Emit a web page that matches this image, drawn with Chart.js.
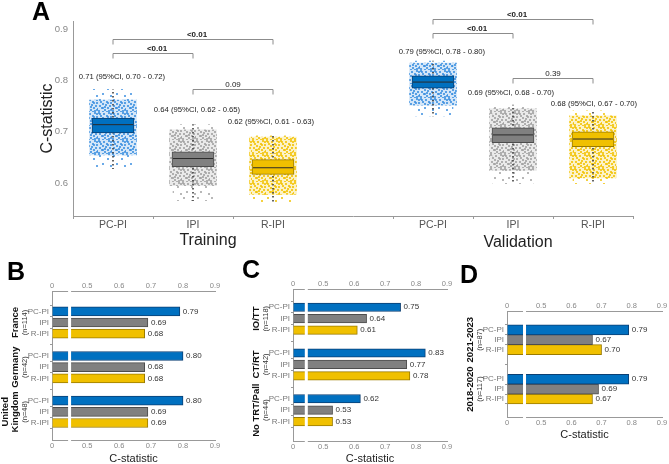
<!DOCTYPE html>
<html>
<head>
<meta charset="utf-8">
<script src="https://cdn.jsdelivr.net/npm/chart.js@4.4.1/dist/chart.umd.min.js"></script>
<style>
  html, body { margin: 0; padding: 0; background: #fff; }
  #wrap { position: relative; width: 669px; height: 464px; overflow: hidden; }
  canvas { position: absolute; }
  .tag { position: absolute; font: bold 25px Arial, "Liberation Sans", sans-serif; line-height: 1; color: #000; }
</style>
</head>
<body>
<div id="wrap">
  <canvas id="chartA" width="669" height="255" style="left:0;top:0"></canvas>
  <canvas id="chartB" width="228" height="211" style="left:0;top:255px"></canvas>
  <canvas id="chartC" width="232" height="211" style="left:225px;top:255px"></canvas>
  <canvas id="chartD" width="219" height="211" style="left:450px;top:255px"></canvas>
  <div class="tag" style="left:32px;top:-1px">A</div>
  <div class="tag" style="left:7px;top:259px">B</div>
  <div class="tag" style="left:242px;top:257px">C</div>
  <div class="tag" style="left:460px;top:262px">D</div>
</div>
<script>
// ---- data ----
const models = ['PC-PI', 'IPI', 'R-IPI'];
const cohorts = ['Training', 'Validation'];

// panel A: bootstrap C-statistics, training then validation
const aucA    = [0.71, 0.64, 0.62, 0.79, 0.69, 0.68];
const ciLoA   = [0.70, 0.62, 0.61, 0.78, 0.68, 0.67];
const ciHiA   = [0.72, 0.65, 0.63, 0.80, 0.70, 0.70];
const medianA = [0.714, 0.648, 0.630, 0.797, 0.694, 0.686];
const q1A     = [0.698, 0.632, 0.617, 0.785, 0.679, 0.671];
const q3A     = [0.727, 0.661, 0.646, 0.809, 0.708, 0.700];
const whiskLoA = [0.628, 0.566, 0.560, 0.731, 0.599, 0.599];
const whiskHiA = [0.783, 0.714, 0.692, 0.838, 0.752, 0.741];
const cloudLoA = [0.655, 0.595, 0.578, 0.752, 0.625, 0.610];
const cloudHiA = [0.762, 0.704, 0.690, 0.834, 0.745, 0.731];
const pairs = [[0, 2], [0, 1], [1, 2]];
const pValues = [['<0.01', '<0.01', '0.09'], ['<0.01', '<0.01', '0.39']];
const yTicksA = [0.6, 0.7, 0.8, 0.9];

// panels B-D
const barTicks = [0, 0.5, 0.6, 0.7, 0.8, 0.9];
const countryLabels = [['France'], ['Germany'], ['United', 'Kingdom']];
const countryN = [114, 42, 48];
const countryPCPI = [0.79, 0.80, 0.80];
const countryIPI  = [0.69, 0.68, 0.69];
const countryRIPI = [0.68, 0.68, 0.69];

const treatLabels = [['IO/TT'], ['CT/RT'], ['No TRT/Pall']];
const treatN = [118, 42, 44];
const treatPCPI = [0.75, 0.83, 0.62];
const treatIPI  = [0.64, 0.77, 0.53];
const treatRIPI = [0.61, 0.78, 0.53];

const periodLabels = [['2021-2023'], ['2018-2020']];
const periodN = [87, 117];
const periodPCPI = [0.79, 0.79];
const periodIPI  = [0.67, 0.69];
const periodRIPI = [0.70, 0.67];

// ---- style ----
Chart.defaults.font.family = 'Arial, "Liberation Sans", sans-serif';
Chart.defaults.animation = false;
const modelColors = ['#0070c0', '#808080', '#f0c000'];
const modelEdges  = ['#0b3f73', '#4d4d4d', '#9a7b00'];
const cloudColors = ['#3a8ee0', '#a0a0a0', '#f2c200'];
const axisGray = '#999';

// speckle texture used to suggest the cloud of bootstrap points
function dotPattern(color, tint, alpha, dots) {
  const c = document.createElement('canvas');
  c.width = 14; c.height = 14;
  const g = c.getContext('2d');
  g.fillStyle = color;
  g.globalAlpha = tint;
  g.fillRect(0, 0, 14, 14);
  g.globalAlpha = alpha;
  dots.forEach(p => g.fillRect(p[0], p[1], 2, 2));
  return g.createPattern(c, 'repeat');
}
const denseDots = [[0,0],[5,1],[10,0],[2,3],[8,3],[12,4],[4,5],[1,7],[7,6],[11,7],[3,9],[9,9],
  [13,10],[6,11],[0,12],[10,12],[4,13],[8,13],[12,1],[6,8]];
const sparseDots = [[1,1],[9,4],[4,9],[12,11]];

function dashPattern() {
  const c = document.createElement('canvas');
  c.width = 1; c.height = 4;
  const g = c.getContext('2d');
  g.fillStyle = '#444';
  g.fillRect(0, 0, 1, 1.5);
  return g.createPattern(c, 'repeat');
}

// 6 values -> 7 category slots (empty slot between cohorts)
function toSlots(arr) { return [arr[0], arr[1], arr[2], null, arr[3], arr[4], arr[5]]; }
function slotOf(i) { return i < 3 ? i : i + 1; }
const slotColors = toSlots(modelColors.concat(modelColors));
const slotEdges = toSlots(modelEdges.concat(modelEdges));
const slotCloud = toSlots(cloudColors.concat(cloudColors)).map(c => c && dotPattern(c, 0.22, 0.8, denseDots));
const slotSparse = toSlots(cloudColors.concat(cloudColors)).map(c => c && dotPattern(c, 0, 0.75, sparseDots));
const range = (lo, hi) => toSlots(lo.map((v, i) => [v, hi[i]]));

// layout of annotations in panel A
const ciLevelA = [0.8068, 0.7427, 0.7194, 0.8553, 0.7757, 0.7544];
const ciShiftA = [9, 4, -2, 9, -2, 1];
const bracketLevels = [[0.8806, 0.853, 0.783], [0.919, 0.892, 0.805]];
const cohortTitlePos = [[208, 241], [518, 243]];

const decorA = {
  id: 'decorA',
  afterDraw(chart) {
    const {ctx, scales: {x, y}} = chart;
    ctx.save();
    ctx.textAlign = 'center';
    ctx.textBaseline = 'middle';
    ctx.fillStyle = '#222';
    ctx.font = '7.7px Arial, "Liberation Sans", sans-serif';
    aucA.forEach((v, i) => {
      const t = v.toFixed(2) + ' (95%CI, ' + ciLoA[i].toFixed(2) + ' - ' + ciHiA[i].toFixed(2) + ')';
      ctx.fillText(t, x.getPixelForValue(slotOf(i)) + ciShiftA[i], y.getPixelForValue(ciLevelA[i]));
    });
    cohorts.forEach((c, ci) => {
      pairs.forEach((p, k) => {
        const xa = x.getPixelForValue(slotOf(ci * 3 + p[0]));
        const xb = x.getPixelForValue(slotOf(ci * 3 + p[1]));
        const py = Math.round(y.getPixelForValue(bracketLevels[ci][k])) + 0.5;
        ctx.strokeStyle = '#8c8c8c';
        ctx.lineWidth = 1;
        ctx.beginPath();
        ctx.moveTo(xa, py + 5); ctx.lineTo(xa, py); ctx.lineTo(xb, py); ctx.lineTo(xb, py + 5);
        ctx.stroke();
        const lab = pValues[ci][k];
        ctx.font = (lab[0] === '<' ? 'bold ' : '') + '8px Arial, "Liberation Sans", sans-serif';
        ctx.fillStyle = '#222';
        ctx.fillText(lab, (xa + xb) / 2 + (lab[0] === '<' ? 4 : 0), py - 5);
      });
      ctx.font = '16px Arial, "Liberation Sans", sans-serif';
      ctx.fillText(c, cohortTitlePos[ci][0], cohortTitlePos[ci][1]);
    });
    ctx.restore();
  }
};

new Chart(document.getElementById('chartA'), {
  type: 'bar',
  data: {
    labels: models.concat([''], models),
    datasets: [
      { type: 'line', data: toSlots(medianA), showLine: false, pointStyle: 'line', pointRadius: 20,
        pointBorderColor: '#2a2a2a', pointBorderWidth: 1, order: 0 },
      { data: range(q1A, q3A), backgroundColor: slotColors, borderColor: slotEdges, borderWidth: 1,
        borderSkipped: false, barThickness: 42, grouped: false, order: 1 },
      { data: range(whiskLoA, whiskHiA), backgroundColor: dashPattern(), barThickness: 1, grouped: false, order: 2 },
      { data: range(cloudLoA, cloudHiA), backgroundColor: slotCloud, barThickness: 47, grouped: false, order: 3 },
      { data: range(whiskLoA, whiskHiA), backgroundColor: slotSparse, barThickness: 40, grouped: false, order: 4 }
    ]
  },
  options: {
    responsive: false,
    layout: { padding: { left: 38, right: 36, top: 20, bottom: 0 } },
    plugins: { legend: { display: false }, tooltip: { enabled: false } },
    scales: {
      x: {
        grid: { drawOnChartArea: false, tickLength: 3, color: c => c.index === 3 ? 'rgba(0,0,0,0)' : axisGray },
        border: { color: axisGray },
        ticks: { color: '#555', font: { size: 10.5 }, padding: 0 },
        afterFit: s => { s.height = 39; }
      },
      y: {
        min: 0.536, max: 0.916,
        afterBuildTicks: s => { s.ticks = yTicksA.map(v => ({ value: v })); },
        grid: { drawOnChartArea: false, drawTicks: false },
        border: { color: axisGray },
        ticks: { color: '#888', font: { size: 9.5 }, padding: 5, callback: v => v.toFixed(1) },
        title: { display: true, text: 'C-statistic', color: '#222', font: { size: 16 }, padding: 0 },
        afterFit: s => { s.width = 35; }
      }
    }
  },
  plugins: [decorA]
});

// ---- horizontal bar panels ----
const panelDecor = {
  id: 'panelDecor',
  afterDraw(chart, args, o) {
    const {ctx, chartArea: a, scales: {x, y}} = chart;
    ctx.save();
    // axis break
    const bx = x.getPixelForValue(o.breakAt);
    ctx.fillStyle = '#fff';
    ctx.fillRect(bx - 1.5, a.top - 2, 3, a.bottom - a.top + 4);
    // value labels
    ctx.font = '8px Arial, "Liberation Sans", sans-serif';
    ctx.fillStyle = '#333';
    ctx.textAlign = 'left';
    ctx.textBaseline = 'middle';
    chart.data.datasets.forEach((ds, di) => {
      chart.getDatasetMeta(di).data.forEach((bar, i) => {
        ctx.fillText(ds.data[i].x.toFixed(2), bar.x + 3, bar.y);
      });
    });
    // group labels
    ctx.textAlign = 'center';
    o.groups.forEach((lines, gi) => {
      const py = y.getPixelForValue(gi * o.per + 1);
      const put = (txt, px, font, color) => {
        ctx.save();
        ctx.translate(px, py);
        ctx.rotate(-Math.PI / 2);
        ctx.font = font;
        ctx.fillStyle = color;
        ctx.fillText(txt, 0, 0);
        ctx.restore();
      };
      lines.forEach((t, li) => {
        put(t, a.left - 37 - (lines.length - 1 - li) * 10, 'bold 9.5px Arial, "Liberation Sans", sans-serif', '#111');
      });
      put('(n=' + o.ns[gi] + ')', a.left - 27.5, '7.5px Arial, "Liberation Sans", sans-serif', '#333');
    });
    ctx.restore();
  }
};

function barPanel(id, groups, ns, series, f) {
  const per = models.length + f.gap;
  const tickPos = [], tickText = {};
  groups.forEach((g, gi) => models.forEach((m, mi) => {
    tickPos.push(gi * per + mi);
    tickText[gi * per + mi] = m;
  }));
  const canvas = document.getElementById(id);
  const W = canvas.width, H = canvas.height;
  const xCommon = {
    type: 'linear', min: f.min, max: 0.9,
    afterBuildTicks: s => { s.ticks = barTicks.map(v => ({ value: v === 0 ? f.min : v })); },
    grid: { drawOnChartArea: false, drawTicks: false },
    border: { color: axisGray },
    ticks: { color: '#888', font: { size: 7.5 }, padding: 1,
      callback: function (v) { return v <= this.min + 1e-9 ? '0' : v.toFixed(1); } }
  };
  new Chart(canvas, {
    type: 'bar',
    data: {
      datasets: series.map((vals, mi) => ({
        label: models[mi],
        data: vals.map((v, gi) => ({ x: v, y: gi * per + mi })),
        backgroundColor: modelColors[mi],
        borderColor: modelEdges[mi],
        borderWidth: 1,
        base: f.min,
        grouped: false,
        barThickness: f.bar
      }))
    },
    options: {
      responsive: false,
      indexAxis: 'y',
      layout: { padding: { left: 0, top: 0, right: W - f.area[2], bottom: H - f.area[3] - f.x2h } },
      plugins: {
        legend: { display: false }, tooltip: { enabled: false },
        panelDecor: { breakAt: 0.445, groups: groups, ns: ns, per: per }
      },
      scales: {
        x: Object.assign({}, xCommon, { position: 'top', afterFit: s => { s.height = f.area[1]; } }),
        x2: Object.assign({}, xCommon, { position: 'bottom', axis: 'x',
          title: { display: true, text: 'C-statistic', color: '#222', font: { size: 11 }, padding: 0 },
          afterFit: s => { s.height = f.x2h; } }),
        y: {
          type: 'linear', reverse: true, min: f.ymin, max: f.ymax,
          afterBuildTicks: s => { s.ticks = tickPos.map(v => ({ value: v })); },
          grid: { drawOnChartArea: false, tickLength: 2, color: axisGray },
          border: { color: axisGray },
          ticks: { color: '#777', font: { size: 8 }, padding: 1, autoSkip: false,
            callback: v => tickText[v] || '' },
          afterFit: s => { s.width = f.area[0]; }
        }
      }
    },
    plugins: [panelDecor]
  });
}

barPanel('chartB', countryLabels, countryN, [countryPCPI, countryIPI, countryRIPI],
  { min: 0.39, ymin: -1.08, ymax: 10.78, gap: 1, bar: 9, area: [52, 36, 215, 185], x2h: 26 });
barPanel('chartC', treatLabels, treatN, [treatPCPI, treatIPI, treatRIPI],
  { min: 0.402, ymin: -0.855, ymax: 10.96, gap: 1, bar: 8.5, area: [68, 34, 222, 186], x2h: 25 });
barPanel('chartD', periodLabels, periodN, [periodPCPI, periodIPI, periodRIPI],
  { min: 0.387, ymin: -1.01, ymax: 7.93, gap: 2, bar: 10, area: [57, 56, 212, 162], x2h: 25 });
</script>
</body>
</html>
